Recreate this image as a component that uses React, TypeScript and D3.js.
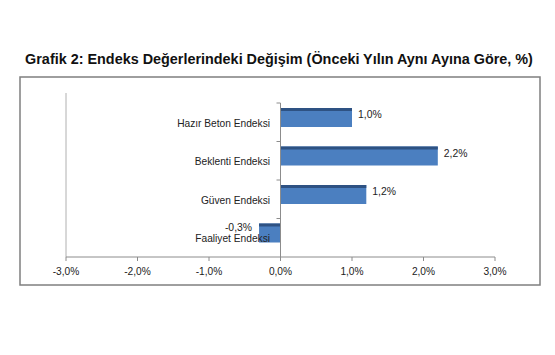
import React from "react";
import * as d3 from "d3";

const categories = ["Hazır Beton Endeksi", "Beklenti Endeksi", "Güven Endeksi", "Faaliyet Endeksi"];
const values = [1.0, 2.2, 1.2, -0.3];
const valueLabels = ["1,0%", "2,2%", "1,2%", "-0,3%"];
const xTicks = [-3, -2, -1, 0, 1, 2, 3];
const xTickLabels = ["-3,0%", "-2,0%", "-1,0%", "0,0%", "1,0%", "2,0%", "3,0%"];
const title = "Grafik 2: Endeks Değerlerindeki Değişim (Önceki Yılın Aynı Ayına Göre, %)";

export default function App() {
  const W = 555, H = 355;
  const x = d3.scaleLinear().domain([-3, 3]).range([66, 495]);
  const y = d3.scaleBand<string>().domain(categories).range([103, 257]);
  const step = y.step();
  const barH = 19;
  const barOff = 5;
  const font = "'Liberation Sans', Arial, sans-serif";
  const axisColor = "#8c8c8c";
  return (
    <svg width={W} height={H} style={{ position: "absolute", left: 0, top: 0, background: "#fff" }}>
      <rect x={0} y={0} width={W} height={H} fill="#fff" />
      <text x={279} y={64} textAnchor="middle" fontFamily={font} fontWeight="bold" fontSize={14.4} fill="#111">
        {title}
      </text>
      <rect x={20} y={77} width={520} height={208} fill="none" stroke="#7f7f7f" strokeWidth={1.5} />
      {/* left border line */}
      <line x1={66} x2={66} y1={93} y2={257} stroke="#b0b0b0" strokeWidth={1} />
      {/* x axis */}
      <line x1={66} x2={495} y1={257} y2={257} stroke={axisColor} strokeWidth={1} />
      {xTicks.map((t, i) => (
        <g key={t}>
          <line x1={x(t)} x2={x(t)} y1={257} y2={261} stroke={axisColor} />
          <text x={x(t)} y={275} textAnchor="middle" fontFamily={font} fontSize={10.2} fill="#222">
            {xTickLabels[i]}
          </text>
        </g>
      ))}
      {/* bars */}
      {categories.map((c, i) => {
        const v = values[i];
        const x0 = x(Math.min(0, v));
        const w = Math.abs(x(v) - x(0));
        const top = (y(c) as number) + barOff;
        return (
          <g key={c}>
            <rect x={x0} y={top} width={w} height={barH} fill="#4b7fc0" />
            <rect x={x0} y={top} width={w} height={3} fill="#2e5283" />
          </g>
        );
      })}
      {/* zero axis */}
      <line x1={x(0)} x2={x(0)} y1={103} y2={257} stroke={axisColor} strokeWidth={1} />
      {categories.map((c, i) => (
        <line key={"t" + i} x1={x(0) - 4} x2={x(0)} y1={(y(c) as number)} y2={(y(c) as number)} stroke={axisColor} />
      ))}
      {/* category labels */}
      {categories.map((c) => (
        <text key={"l" + c} x={270} y={(y(c) as number) + step / 2 + 4.5} textAnchor="end" fontFamily={font} fontSize={10.2} fill="#222">
          {c}
        </text>
      ))}
      {/* value labels */}
      {categories.map((c, i) => {
        const v = values[i];
        const top = (y(c) as number) + barOff;
        const lx = v >= 0 ? x(v) + 6 : x(v) - 7;
        return (
          <text key={"v" + c} x={lx} y={v >= 0 ? top + 10 : top + 7} textAnchor={v >= 0 ? "start" : "end"} fontFamily={font} fontSize={10.4} fill="#222">
            {valueLabels[i]}
          </text>
        );
      })}
    </svg>
  );
}
